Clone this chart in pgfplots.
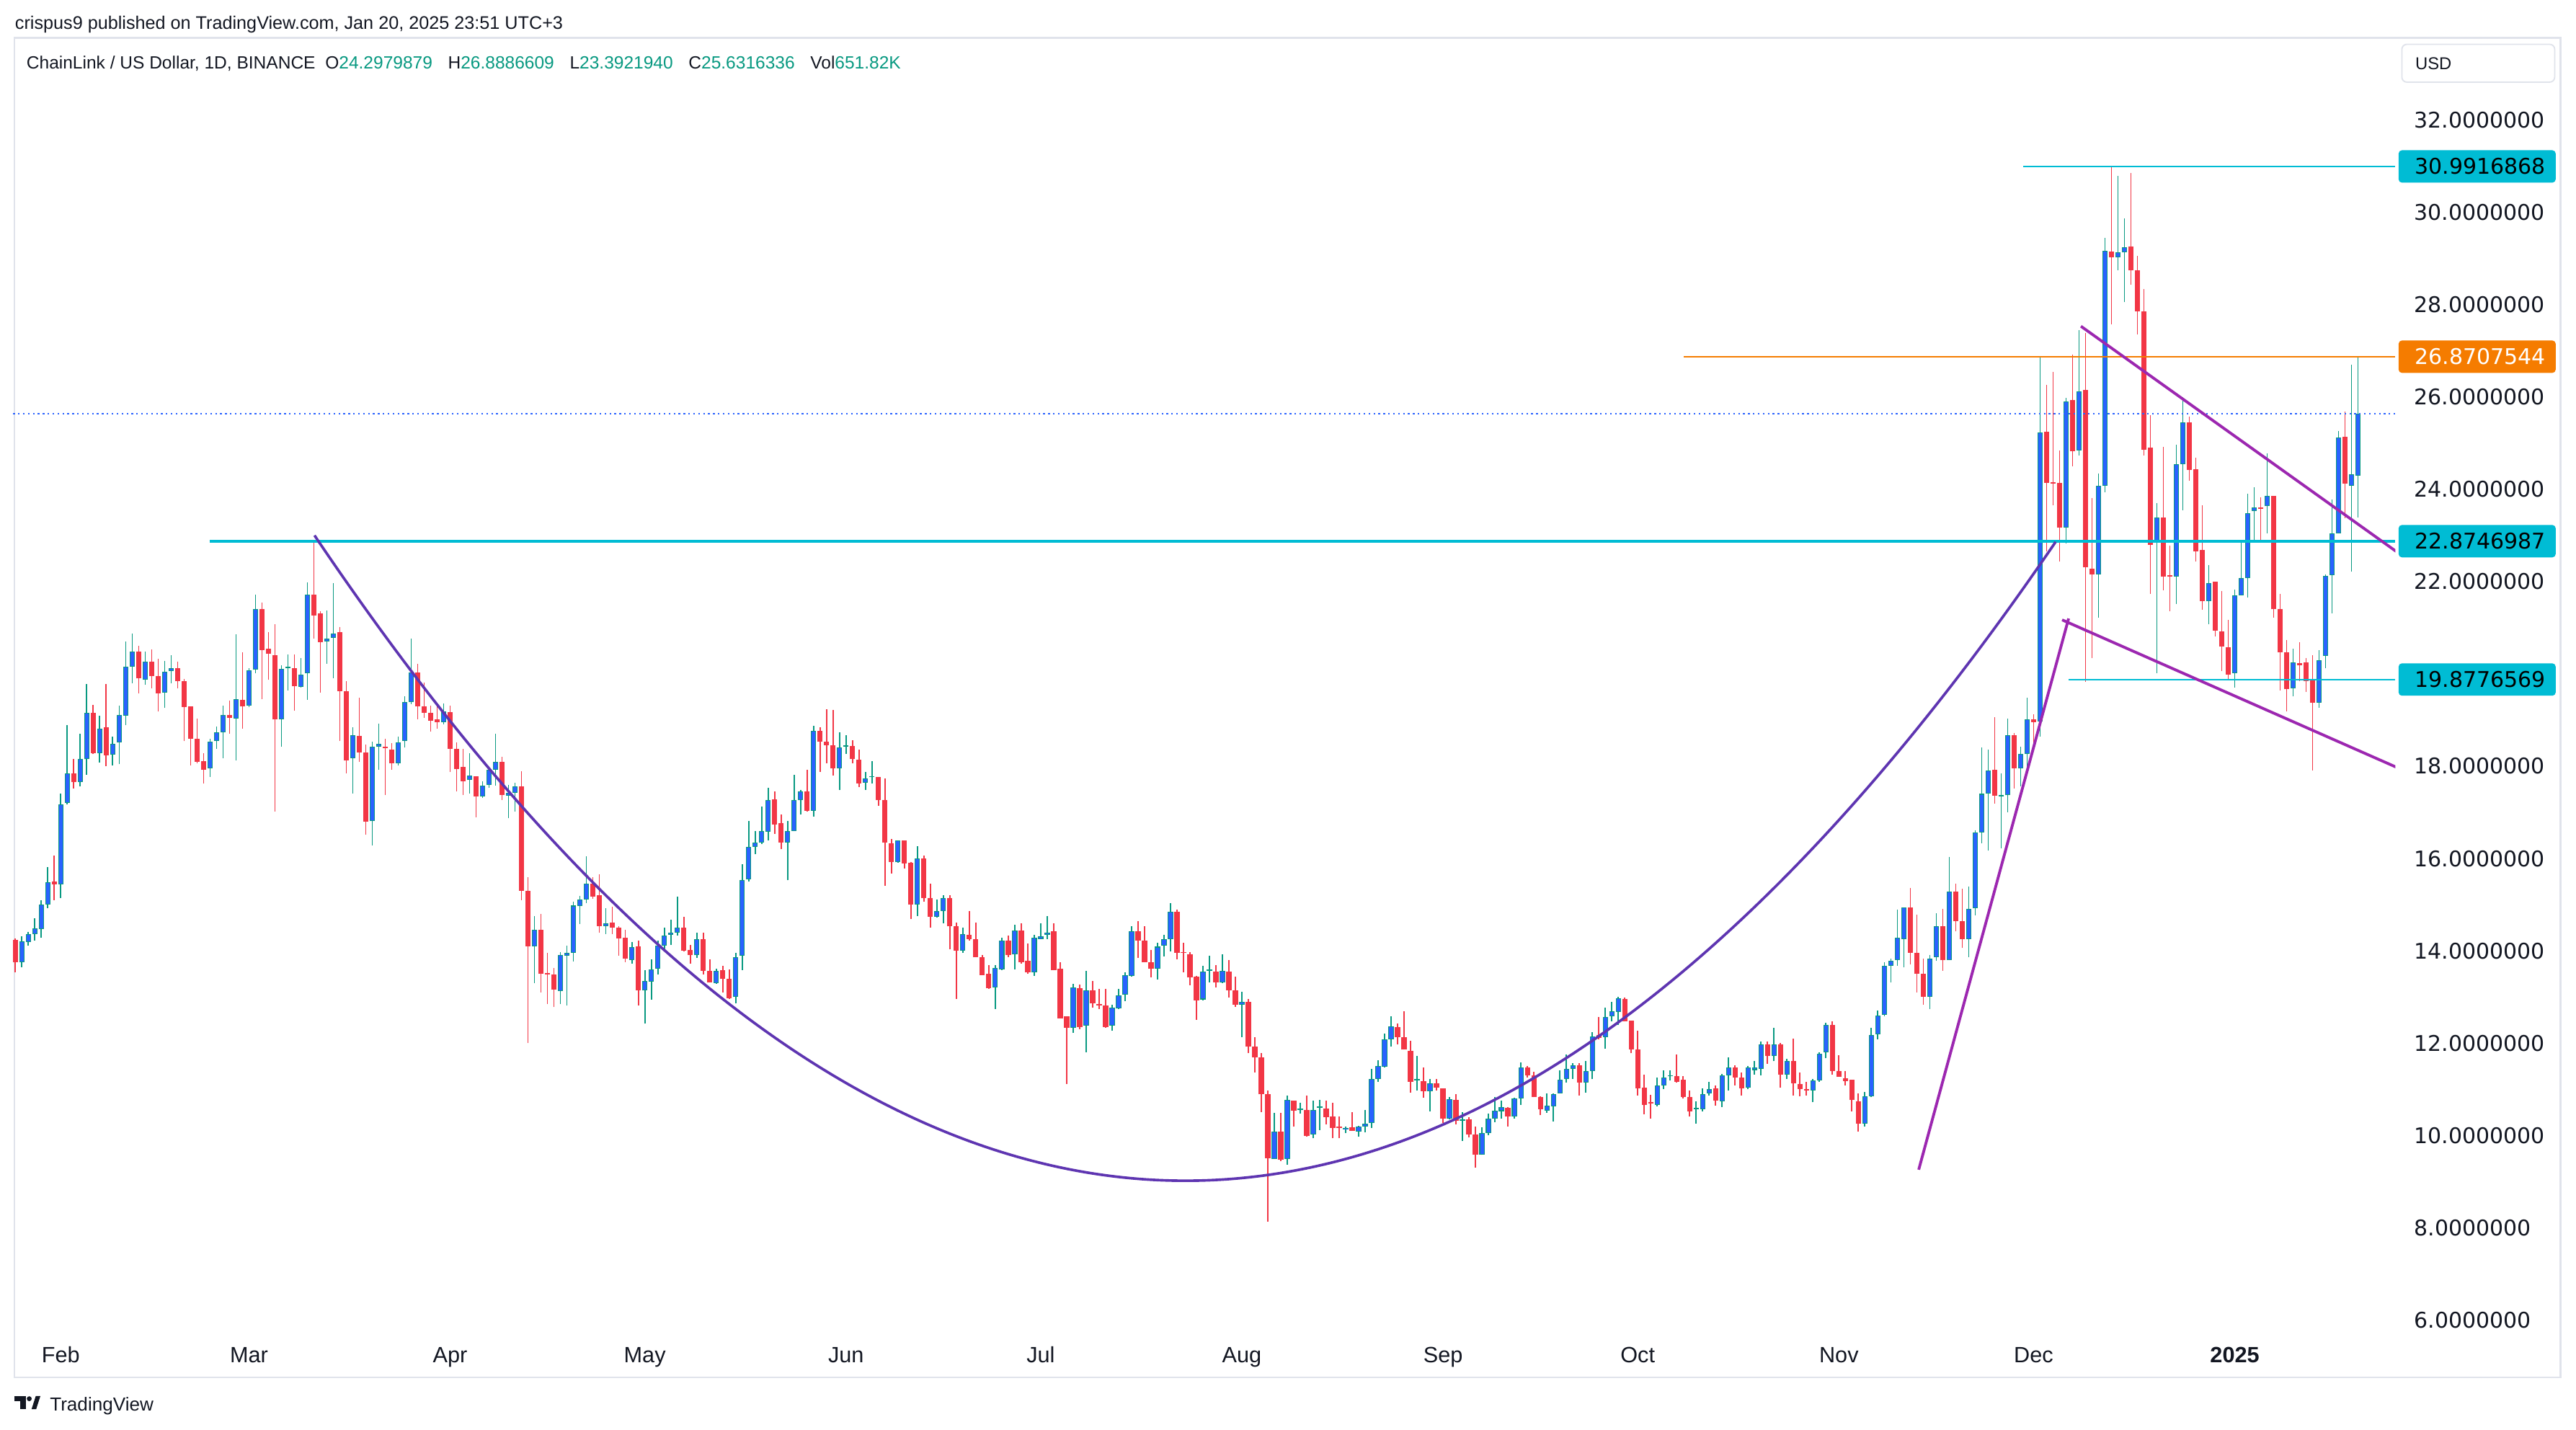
\documentclass[border=0pt]{standalone}
\usepackage{pgfplots}
\pgfplotsset{compat=1.18}
\usepackage{pgfplotstable}
\usepackage{fontspec}
\setmainfont{Liberation Sans}
\newfontfamily\dejavu{DejaVu Sans}
\definecolor{tvgreen}{HTML}{089981}
\definecolor{tvblue}{HTML}{2962FF}
\definecolor{tvred}{HTML}{F23645}
\definecolor{tvcyan}{HTML}{00BCD4}
\definecolor{tvorange}{HTML}{F57C00}
\definecolor{cuppurple}{HTML}{5E35B1}
\definecolor{wedge}{HTML}{9C27B0}
\definecolor{tvtext}{HTML}{131722}
\definecolor{tvframe}{HTML}{E0E3EB}

\pgfplotstableread{
x o h l c
24 14.24 14.27 13.53 13.75
25 13.75 14.31 13.65 14.21
26 14.19 14.41 14.11 14.36
27 14.36 14.70 14.23 14.49
28 14.47 15.09 14.28 15.00
29 15.01 15.81 14.92 15.49
30 15.50 16.06 15.10 15.44
31 15.44 17.40 15.15 17.18
32 17.21 18.89 17.17 17.84
33 17.84 18.15 17.52 17.65
34 17.65 18.71 17.56 18.15
35 18.15 19.78 17.82 19.15
36 19.15 19.33 18.26 18.28
37 18.28 19.09 18.08 18.82
38 18.84 19.78 18.00 18.23
39 18.25 18.64 18.02 18.48
40 18.51 19.31 18.05 19.11
41 19.10 20.70 18.89 20.15
42 20.16 20.87 19.80 20.48
43 20.48 20.61 19.57 19.90
44 19.87 20.48 19.76 20.26
45 20.26 20.53 19.68 19.95
46 19.95 20.33 19.18 19.57
47 19.59 20.28 19.26 20.04
48 20.06 20.40 19.79 20.12
49 20.12 20.27 19.68 19.84
50 19.84 19.89 18.54 19.28
51 19.29 19.29 18.02 18.60
52 18.59 19.03 18.06 18.10
53 18.11 18.28 17.62 17.93
54 17.96 18.59 17.77 18.53
55 18.55 18.86 18.38 18.73
56 18.73 19.31 18.17 19.11
57 19.11 19.42 18.71 19.04
58 19.03 20.86 18.12 19.45
59 19.43 20.47 18.82 19.29
60 19.31 20.12 19.28 20.08
61 20.09 21.71 20.01 21.41
62 21.41 21.54 19.45 20.52
63 20.54 20.91 19.87 20.43
64 20.41 21.08 17.02 19.01
65 19.01 20.19 18.43 20.11
66 20.12 20.42 19.64 20.14
67 20.12 20.42 19.20 19.73
68 19.72 20.35 19.71 19.99
69 20.01 21.98 19.44 21.71
70 21.71 22.90 20.76 21.27
71 21.31 21.35 19.60 20.69
72 20.70 21.38 20.22 20.77
73 20.78 21.96 19.91 20.88
74 20.90 21.01 18.55 19.63
75 19.63 19.84 17.85 18.12
76 18.17 18.84 17.41 18.67
77 18.65 19.49 18.09 18.30
78 18.30 18.47 16.51 16.80
79 16.81 18.53 16.29 18.42
80 18.42 18.92 17.93 18.48
81 18.43 18.60 17.38 18.39
82 18.36 18.50 17.93 18.07
83 18.07 18.64 18.01 18.52
84 18.55 19.51 18.40 19.39
85 19.39 20.77 19.35 20.03
86 20.03 20.22 19.02 19.29
87 19.30 19.81 19.05 19.15
88 19.15 19.31 18.75 18.99
89 19.01 19.31 18.82 18.95
90 18.96 19.36 18.91 19.19
91 19.17 19.31 17.87 18.38
92 18.38 18.52 17.46 17.94
93 17.99 18.37 17.38 17.68
94 17.70 18.28 17.41 17.80
95 17.78 17.78 16.90 17.34
96 17.34 17.68 17.31 17.58
97 17.60 17.98 17.53 17.92
98 17.92 18.71 17.58 18.10
99 18.10 18.20 17.27 17.38
100 17.36 17.60 16.87 17.42
101 17.42 17.64 17.01 17.57
102 17.56 17.89 15.10 15.30
103 15.30 15.60 12.00 14.10
104 14.10 14.75 13.30 14.45
105 14.45 14.80 13.10 13.50
106 13.50 13.95 12.85 13.49
107 13.49 13.63 12.78 13.16
108 13.13 13.98 12.85 13.91
109 13.89 14.12 12.81 13.95
110 13.95 15.06 13.77 14.98
111 14.97 15.19 14.58 15.11
112 15.11 16.05 15.04 15.46
113 15.46 15.60 15.13 15.18
114 15.20 15.66 14.39 14.54
115 14.54 14.93 14.37 14.60
116 14.61 14.96 14.37 14.50
117 14.51 14.53 13.90 14.27
118 14.28 14.46 13.76 13.83
119 13.80 14.19 13.73 14.08
120 14.09 14.22 12.81 13.14
121 13.14 13.58 12.42 13.35
122 13.34 13.81 12.95 13.60
123 13.61 14.22 13.49 14.11
124 14.12 14.50 14.02 14.33
125 14.35 14.67 14.13 14.39
126 14.39 15.18 14.33 14.50
127 14.50 14.74 13.99 14.01
128 14.02 14.13 13.72 13.91
129 13.91 14.40 13.85 14.25
130 14.26 14.40 13.49 13.56
131 13.56 13.82 13.31 13.31
132 13.30 13.61 13.28 13.56
133 13.58 13.68 13.10 13.39
134 13.39 13.60 12.96 12.98
135 13.00 13.95 12.86 13.87
136 13.90 15.87 13.58 15.53
137 15.55 16.81 15.50 16.26
138 16.25 16.60 16.09 16.34
139 16.34 17.13 16.32 16.60
140 16.58 17.54 16.39 17.26
141 17.28 17.45 16.54 16.74
142 16.77 16.95 16.20 16.35
143 16.35 16.81 15.53 16.60
144 16.60 17.81 16.59 17.26
145 17.26 17.48 16.95 17.46
146 17.46 17.93 17.02 17.03
147 17.04 18.87 16.91 18.77
148 18.77 18.85 17.88 18.53
149 18.53 19.24 18.06 18.45
150 18.45 19.22 17.80 17.95
151 17.96 18.73 17.48 18.40
152 18.43 18.67 18.27 18.45
153 18.44 18.56 18.06 18.15
154 18.14 18.36 17.55 17.63
155 17.64 17.88 17.49 17.73
156 17.76 18.11 17.62 17.77
157 17.77 17.77 17.14 17.26
158 17.27 17.73 15.41 16.34
159 16.33 16.42 15.68 15.93
160 15.92 16.39 15.91 16.39
161 16.39 16.39 15.79 15.90
162 15.91 15.93 14.69 15.00
163 15.00 16.27 14.76 16.01
164 16.01 16.06 15.07 15.14
165 15.14 15.45 14.50 14.74
166 14.74 15.11 14.72 14.86
167 14.86 15.21 14.59 15.14
168 15.14 15.21 14.04 14.53
169 14.54 14.62 12.96 14.01
170 14.01 14.50 13.95 14.36
171 14.35 14.86 14.22 14.26
172 14.26 14.62 13.86 13.86
173 13.86 13.91 13.48 13.48
174 13.50 13.69 13.18 13.19
175 13.21 13.69 12.74 13.63
176 13.60 14.29 13.59 14.22
177 14.22 14.33 13.87 13.91
178 13.92 14.57 13.60 14.44
179 14.44 14.60 13.73 13.75
180 13.78 14.16 13.50 13.53
181 13.53 14.35 13.46 14.28
182 14.26 14.59 14.25 14.32
183 14.35 14.76 14.26 14.40
184 14.43 14.59 13.58 13.58
185 13.62 13.75 12.54 12.54
186 12.58 12.58 11.12 12.33
187 12.33 13.28 12.22 13.21
188 13.19 13.27 12.31 12.35
189 12.38 13.56 11.81 13.15
190 13.15 13.35 12.77 12.86
191 12.85 13.18 12.74 12.82
192 12.81 13.17 12.33 12.35
193 12.38 12.84 12.27 12.77
194 12.75 13.17 12.74 13.03
195 13.05 13.54 12.91 13.47
196 13.45 14.54 13.44 14.42
197 14.42 14.64 13.85 14.23
198 14.23 14.54 13.75 13.75
199 13.76 14.02 13.43 13.61
200 13.61 14.17 13.38 14.09
201 14.11 14.34 13.88 14.26
202 14.26 15.03 13.99 14.85
203 14.85 14.89 13.82 13.95
204 13.97 14.17 13.53 13.95
205 13.93 13.97 13.26 13.42
206 13.44 13.46 12.51 12.93
207 12.95 13.68 12.93 13.55
208 13.57 13.89 13.32 13.60
209 13.55 13.69 13.21 13.32
210 13.32 13.93 13.30 13.56
211 13.55 13.80 12.99 13.15
212 13.15 13.44 12.79 12.83
213 12.83 13.11 12.13 12.90
214 12.90 12.96 11.78 11.92
215 11.92 12.13 11.37 11.70
216 11.69 11.79 10.51 10.89
217 10.90 10.97 8.14 9.51
218 9.49 10.49 9.49 10.08
219 10.09 10.49 9.45 9.47
220 9.49 10.87 9.37 10.77
221 10.76 10.76 10.19 10.54
222 10.56 10.71 10.48 10.57
223 10.56 10.87 9.98 9.99
224 10.02 10.75 9.94 10.56
225 10.60 10.77 10.12 10.62
226 10.58 10.76 10.24 10.40
227 10.41 10.71 9.94 10.17
228 10.19 10.41 9.94 10.17
229 10.13 10.19 10.05 10.17
230 10.18 10.50 10.10 10.10
231 10.09 10.21 9.97 10.19
232 10.19 10.55 10.07 10.25
233 10.27 11.45 10.17 11.23
234 11.23 11.63 11.17 11.50
235 11.49 12.21 11.48 12.08
236 12.08 12.58 11.92 12.36
237 12.35 12.42 11.98 12.13
238 12.13 12.70 11.86 11.86
239 11.84 12.06 10.93 11.17
240 11.19 11.73 10.97 11.21
241 11.18 11.48 10.82 10.96
242 10.96 11.22 10.53 11.13
243 11.13 11.23 10.97 11.03
244 11.02 11.02 10.27 10.37
245 10.37 10.84 10.35 10.79
246 10.77 10.89 10.24 10.32
247 10.32 10.50 9.88 10.35
248 10.35 10.40 9.96 10.03
249 10.03 10.19 9.30 9.58
250 9.58 10.18 9.58 10.05
251 10.05 10.48 10.00 10.37
252 10.36 10.83 10.29 10.54
253 10.53 10.75 10.36 10.61
254 10.60 10.62 10.20 10.41
255 10.41 10.82 10.37 10.80
256 10.80 11.58 10.67 11.47
257 11.47 11.50 11.26 11.31
258 11.30 11.38 10.83 10.83
259 10.83 10.85 10.44 10.57
260 10.54 10.92 10.49 10.64
261 10.63 10.92 10.31 10.90
262 10.91 11.41 10.91 11.21
263 11.22 11.75 11.15 11.44
264 11.44 11.57 11.23 11.52
265 11.52 11.57 10.87 11.15
266 11.14 11.61 10.93 11.40
267 11.40 12.24 11.22 12.15
268 12.17 12.57 12.09 12.12
269 12.13 12.77 11.88 12.57
270 12.58 12.90 12.48 12.69
271 12.68 13.00 12.40 12.97
272 12.96 12.99 12.47 12.47
273 12.49 12.49 11.78 11.86
274 11.87 12.27 10.87 11.02
275 11.03 11.32 10.46 10.67
276 10.71 10.88 10.37 10.69
277 10.67 11.25 10.63 11.08
278 11.08 11.41 11.01 11.25
279 11.28 11.41 11.19 11.30
280 11.28 11.75 11.14 11.17
281 11.21 11.28 10.80 10.83
282 10.84 10.97 10.41 10.53
283 10.57 10.74 10.26 10.58
284 10.57 11.02 10.53 10.90
285 10.91 11.16 10.86 11.00
286 11.02 11.09 10.65 10.75
287 10.74 11.34 10.62 11.30
288 11.30 11.69 10.97 11.47
289 11.47 11.52 11.09 11.25
290 11.26 11.36 10.87 11.02
291 11.03 11.50 11.00 11.48
292 11.42 11.61 11.32 11.48
293 11.45 12.03 11.30 11.97
294 11.98 12.04 11.56 11.72
295 11.72 12.34 11.61 11.98
296 11.98 12.00 11.03 11.32
297 11.32 11.66 11.23 11.61
298 11.62 12.10 10.87 11.13
299 11.11 11.37 10.85 11.00
300 11.01 11.16 10.87 10.98
301 10.98 11.23 10.72 11.19
302 11.19 11.80 11.16 11.77
303 11.80 12.44 11.67 12.40
304 12.40 12.48 11.32 11.40
305 11.40 11.74 11.27 11.27
306 11.24 11.39 11.09 11.18
307 11.21 11.21 10.53 10.77
308 10.74 10.92 10.09 10.25
309 10.25 10.95 10.20 10.85
310 10.85 12.34 10.83 12.18
311 12.19 12.71 12.09 12.60
312 12.61 13.76 12.58 13.68
313 13.68 13.84 13.31 13.78
314 13.80 14.89 13.68 14.28
315 14.26 14.94 13.64 14.94
316 14.94 15.36 13.70 13.96
317 13.96 14.79 13.10 13.50
318 13.51 13.84 12.83 13.01
319 13.00 13.91 12.74 13.84
320 13.86 14.81 13.78 14.54
321 14.54 14.91 13.57 13.80
322 13.80 16.03 13.80 15.29
323 15.29 15.46 14.42 14.64
324 14.64 15.34 14.06 14.25
325 14.25 15.40 13.86 14.91
326 14.92 16.61 14.77 16.57
327 16.57 18.41 16.33 17.40
328 17.40 18.36 16.17 17.91
329 17.93 19.07 17.19 17.36
330 17.35 17.84 16.22 17.38
331 17.37 19.03 17.00 18.68
332 18.68 18.72 17.51 17.95
333 17.95 18.43 17.57 18.26
334 18.26 19.48 17.99 19.02
335 19.01 19.12 18.48 18.96
336 18.97 26.88 18.64 25.23
337 25.25 26.26 22.65 24.14
338 24.16 26.54 23.65 24.12
339 24.14 24.84 22.43 23.17
340 23.17 25.98 22.82 25.90
341 25.93 26.92 24.50 24.82
342 24.84 27.45 24.73 26.12
343 26.15 27.38 19.82 22.31
344 22.28 23.81 20.34 22.16
345 22.16 24.34 21.22 24.07
346 24.07 29.45 23.93 29.16
347 29.15 30.97 27.57 29.02
348 29.02 30.78 28.75 29.13
349 29.13 29.86 28.05 29.24
350 29.26 30.85 28.43 28.74
351 28.74 29.06 27.36 27.86
352 27.86 28.34 24.73 24.86
353 24.90 25.61 21.74 22.80
354 22.85 23.70 20.02 23.39
355 23.39 24.92 21.81 22.10
356 22.14 22.78 21.35 22.10
357 22.10 24.97 21.52 24.55
358 24.55 25.99 23.55 25.45
359 25.45 25.58 24.18 24.42
360 24.44 24.69 22.43 22.66
361 22.69 23.65 21.39 21.57
362 21.57 22.36 21.07 21.97
363 21.99 21.99 20.81 20.94
364 20.92 21.80 20.06 20.59
365 20.57 21.17 19.86 19.99
366 20.02 21.83 19.71 21.70
367 21.70 22.91 21.70 22.08
368 22.08 23.90 21.66 23.48
369 23.52 24.05 22.91 23.61
370 23.61 23.83 22.91 23.57
371 23.63 24.77 23.04 23.85
372 23.85 23.85 21.22 21.40
373 21.40 21.73 19.64 20.46
374 20.46 20.74 19.19 19.67
375 19.68 20.54 19.51 20.25
376 20.23 20.69 19.84 20.19
377 20.25 20.34 19.61 19.84
378 19.86 20.41 17.91 19.38
379 19.38 20.52 19.27 20.30
380 20.39 22.16 20.12 22.12
381 22.14 23.78 21.31 23.04
382 23.04 25.26 23.04 25.12
383 25.14 25.69 23.37 24.12
384 24.07 26.69 22.21 24.33
385 24.2979879 26.8886609 23.3921940 25.6316336
}\ohlc

\newcommand{\pricebox}[4]{%
  \fill[#2, rounded corners=2bp] (axis cs:391.25,#1) ++(0bp,-9.85bp) rectangle ++(95.6bp,19.7bp);
  \node[anchor=west, inner sep=0pt, text=#3, font=\dejavu\fontsize{13.2}{15}\selectfont] at (axis cs:393.73,#1) {#4};
}

\begin{document}
\begin{tikzpicture}[x=1bp,y=1bp]
\fill[white] (0,0) rectangle (1568,870);
\useasboundingbox (0,0) rectangle (1568,870);
\draw[tvframe, line width=1bp] (8.8,31.7) rectangle (1558.5,846.9);
\begin{axis}[
  at={(8bp,60bp)}, anchor=south west, scale only axis,
  width=1450bp, height=788bp,
  xmin=23.66, xmax=390.75, ymin=5.772, ymax=33.815,
  axis line style={draw=none}, major tick length=0pt,
  clip mode=individual,
  xtick={31,60,91,121,152,182,213,244,274,305,335,366},
  xticklabels={Feb,Mar,Apr,May,Jun,Jul,Aug,Sep,Oct,Nov,Dec,\textbf{2025}},
  xticklabel style={font=\fontsize{13.5}{15}\selectfont, text=tvtext, anchor=base, inner sep=0pt, yshift=-19.5bp},
  ytick={6,8,10,12,14,16,18,22,24,26,28,30,32},
  yticklabel pos=right,
  yticklabel style={font=\dejavu\fontsize{13.2}{15}\selectfont, text=tvtext, anchor=west, inner sep=0pt, xshift=11.3bp,
    /pgf/number format/.cd, fixed, fixed zerofill, precision=7, assume math mode=true},
]
% wicks
\addplot[draw=none, mark=none, forget plot,
  error bars/.cd, y dir=plus, y explicit, error mark=none,
  error bar style={line width=0.75bp, draw=tvgreen}]
  table[x=x, y expr={\thisrow{c}>=\thisrow{o} ? \thisrow{l} : nan}, y error plus expr={\thisrow{h}-\thisrow{l}}] {\ohlc};
\addplot[draw=none, mark=none, forget plot,
  error bars/.cd, y dir=plus, y explicit, error mark=none,
  error bar style={line width=0.75bp, draw=tvred}]
  table[x=x, y expr={\thisrow{c}<\thisrow{o} ? \thisrow{l} : nan}, y error plus expr={\thisrow{h}-\thisrow{l}}] {\ohlc};
% bodies up: green outline, blue fill
\addplot[draw=none, mark=none, forget plot,
  error bars/.cd, y dir=plus, y explicit, error mark=none,
  error bar style={line width=3.2bp, draw=tvgreen}]
  table[x=x, y expr={\thisrow{c}>=\thisrow{o} ? \thisrow{o} : nan}, y error plus expr={max(\thisrow{c}-\thisrow{o},0.03)}] {\ohlc};
\addplot[draw=none, mark=none, forget plot,
  error bars/.cd, y dir=plus, y explicit, error mark=none,
  error bar style={line width=2.3bp, draw=tvblue}]
  table[x=x, y expr={\thisrow{c}>\thisrow{o}+0.034 ? \thisrow{o}+0.016 : nan}, y error plus expr={\thisrow{c}-\thisrow{o}-0.032}] {\ohlc};
% bodies down
\addplot[draw=none, mark=none, forget plot,
  error bars/.cd, y dir=plus, y explicit, error mark=none,
  error bar style={line width=3.2bp, draw=tvred}]
  table[x=x, y expr={\thisrow{c}<\thisrow{o} ? \thisrow{c} : nan}, y error plus expr={max(\thisrow{o}-\thisrow{c},0.03)}] {\ohlc};

% current price dotted line
\addplot[tvblue, line width=0.7bp, dash pattern=on 1bp off 2bp, forget plot] coordinates {(23.66,25.6316) (390.75,25.6316)};
% horizontal levels
\addplot[tvcyan, line width=2bp, forget plot] coordinates {(53.9,22.8747) (390.75,22.8747)};
\addplot[tvcyan, line width=1bp, forget plot] coordinates {(333.4,30.9917) (390.75,30.9917)};
\addplot[tvorange, line width=1bp, forget plot] coordinates {(281.1,26.8708) (390.75,26.8708)};
\addplot[tvcyan, line width=1bp, forget plot] coordinates {(340.4,19.8777) (390.75,19.8777)};
% wedge lines
\addplot[wedge, line width=1.7bp, forget plot] coordinates {(317.3,9.26) (340.4,21.20)};
\addplot[wedge, line width=1.7bp, forget plot] coordinates {(339.4,21.17) (391.2,17.96)};
\addplot[wedge, line width=1.7bp, forget plot] coordinates {(342.3,27.53) (391.2,22.62)};
% cup curve
\draw[cuppurple, line width=1.6bp] (axis cs:70.1,23.0) .. controls (axis cs:159.2,4.40) and (axis cs:248.6,4.37) .. (axis cs:338.4,22.86);

% price boxes
\pricebox{30.9917}{tvcyan}{black}{30.9916868}
\pricebox{26.8708}{tvorange}{white}{26.8707544}
\pricebox{22.8747}{tvcyan}{black}{22.8746987}
\pricebox{19.8777}{tvcyan}{black}{19.8776569}
\end{axis}

% header
\node[anchor=base west, inner sep=0pt, text=tvtext, font=\fontsize{11.1}{12}\selectfont] at (9,852.2) {crispus9 published on TradingView.com, Jan 20, 2025 23:51 UTC+3};
\node[anchor=base west, inner sep=0pt, text=tvtext, font=\fontsize{10.8}{12}\selectfont] at (16,828.1) {ChainLink / US Dollar, 1D, BINANCE\hspace{6bp}O\textcolor{tvgreen}{24.2979879}\hspace{9.5bp}H\textcolor{tvgreen}{26.8886609}\hspace{9.5bp}L\textcolor{tvgreen}{23.3921940}\hspace{9.5bp}C\textcolor{tvgreen}{25.6316336}\hspace{9.5bp}Vol\textcolor{tvgreen}{651.82K}};
% USD box
\draw[tvframe, fill=white, rounded corners=3bp, line width=0.8bp] (1462,820) rectangle (1555,843);
\node[anchor=base west, inner sep=0pt, text=tvtext, font=\fontsize{10.5}{12}\selectfont] at (1470,827.8) {USD};
% TradingView logo
\fill[tvtext] (8.8,20.3) rectangle (15.8,17.3);
\fill[tvtext] (12.3,20.3) rectangle (15.8,12.2);
\fill[tvtext] (17.8,18.6) circle (1.5);
\fill[tvtext] (19.2,12.2) -- (22.0,12.2) -- (24.6,20.3) -- (21.8,20.3) -- cycle;
\node[anchor=base west, inner sep=0pt, text=tvtext, font=\fontsize{11.5}{13}\selectfont] at (30.2,11.2) {TradingView};
\end{tikzpicture}
\end{document}
